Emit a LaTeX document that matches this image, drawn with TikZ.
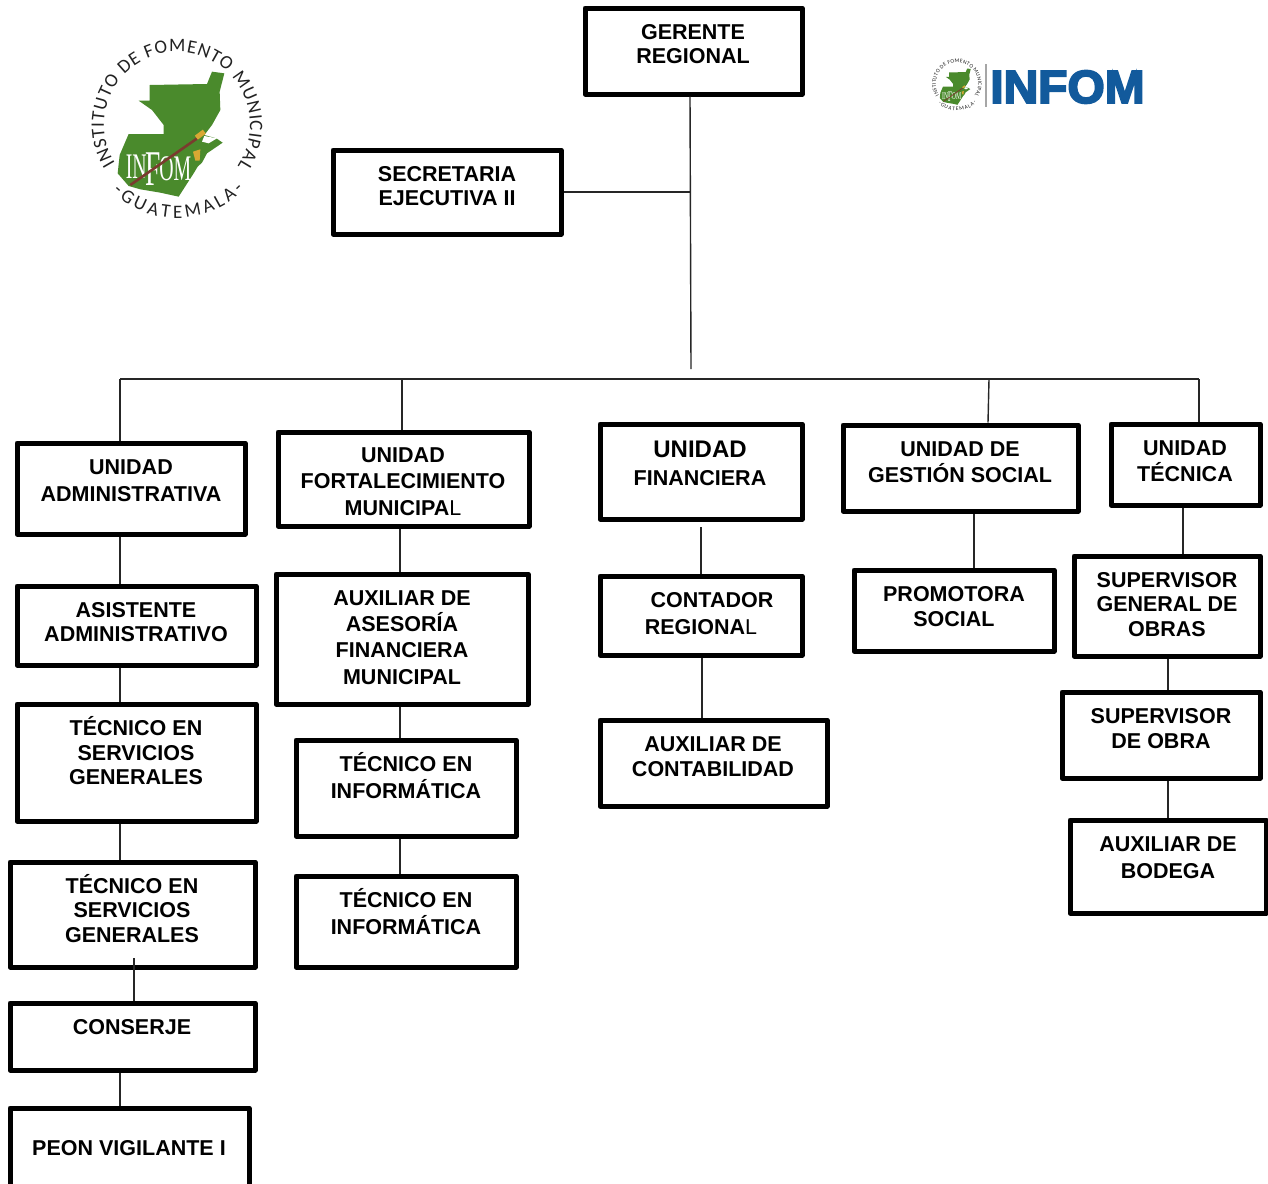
\documentclass[tikz,border=0pt]{standalone}
\usepackage{fontspec}
\setmainfont{Liberation Sans}
\newfontfamily\sealserif{Liberation Serif}
\newfontfamily\sealsans{Carlito}
\usetikzlibrary{decorations.text}
\definecolor{sealgreen}{HTML}{4A8A2C}
\definecolor{sealbrown}{HTML}{7A3B2E}
\definecolor{sealgold}{HTML}{D9A833}
\definecolor{infomblue}{HTML}{125A9C}
\definecolor{ringink}{HTML}{222222}
\tikzset{
  orgbox/.style={draw=black,line width=5pt,line join=round,inner sep=0pt,fill=white},
  orgtext/.style={inner sep=0pt,align=center,text=black},
  link/.style={draw=black!85,line width=1.4pt}
}
% name, x1,y1,x2,y2, text x, text y, leading, text
\newcommand{\orgunit}[9]{%
  \pgfmathsetmacro{\cxx}{(#2+#4)/2}\pgfmathsetmacro{\cyy}{(#3+#5)/2}%
  \pgfmathsetmacro{\wdd}{#4-#2-2}\pgfmathsetmacro{\htt}{#5-#3-2}%
  \node[orgbox,minimum width=\wdd pt,minimum height=\htt pt] (#1) at (\cxx,\cyy) {};%
  \node[orgtext,font=\fontsize{21.5pt}{#8pt}\selectfont\bfseries] (#1-t) at (#6,#7) {#9};%
}
% name suffix, centre x, centre y, scale
\newcommand{\sealmark}[4]{%
  \pgfmathsetmacro{\sca}{#4}%
  \pgfmathsetmacro{\ra}{73*\sca}\pgfmathsetmacro{\rb}{93*\sca}%
  \pgfmathsetmacro{\fa}{19*\sca}\pgfmathsetmacro{\fb}{19*\sca}%
  \pgfmathsetmacro{\fc}{36*\sca}\pgfmathsetmacro{\fd}{50*\sca}%
  \pgfmathsetmacro{\zu}{\sca/3}%
  \begin{scope}[shift={(#2,#3)},x=\zu pt,y=-\zu pt,shift={(-350,-345)}]
    \fill[sealgreen] (268,225) -- (440,222) -- (455,185) -- (492,190) -- (478,245) -- (480,300)
      -- (455,345) -- (432,375) -- (468,385) -- (487,398) -- (440,430) -- (425,458) -- (412,470)
      -- (400,490) -- (355,560) -- (300,548) -- (240,538) -- (205,528) -- (172,490) -- (178,435)
      -- (205,372) -- (310,372) -- (310,345) -- (275,300) -- (235,272) -- (268,272) -- cycle;
    \fill[white] (432,378) -- (470,385) -- (445,400) -- (425,395) -- cycle;
    \fill[sealgold] (398,425) -- (420,418) -- (418,452) -- (405,452) -- cycle;
    \node[font=\sealserif\fontsize{\fc pt}{\fc pt}\selectfont,text=white,xscale=.55,inner sep=0pt] (seal-a#1) at (228,470) {IN};
    \node[font=\sealserif\fontsize{\fd pt}{\fd pt}\selectfont,text=white,xscale=.55,inner sep=0pt] (seal-b#1) at (278,478) {F};
    \node[font=\sealserif\fontsize{\fc pt}{\fc pt}\selectfont,text=white,xscale=.55,inner sep=0pt] (seal-c#1) at (345,475) {OM};
    \draw[sealbrown,line width=2.6*\sca pt] (210,525) -- (415,382);
    \draw[sealgold,line width=5*\sca pt] (408,383) -- (432,365);
  \end{scope}
  \begin{scope}[shift={(#2,#3)},x=1pt,y=1pt]
    \path[decorate,decoration={text along path,text align={fit to path},text color=ringink,
      text={|\sealsans\fontsize{\fa pt}{\fa pt}\selectfont|INSTITUTO DE FOMENTO MUNICIPAL}}]
      (212:\ra pt) arc (212:-34:\ra pt);
    \path[decorate,decoration={text along path,text align={fit to path},text color=ringink,
      text={|\sealsans\fontsize{\fb pt}{\fb pt}\selectfont|-GUATEMALA-}}]
      (226:\rb pt) arc (226:316:\rb pt);
  \end{scope}%
}
\begin{document}
\begin{tikzpicture}[x=1pt,y=-1pt]
\useasboundingbox (0,0) rectangle (1268,1183);
\fill[white] (0,0) rectangle (1268,1183);

% logos
\sealmark{L}{177}{125}{1}
\sealmark{R}{957}{84}{0.29}
\fill[black!35] (985,64) rectangle (986.5,107);
\node[inner sep=0pt,text=infomblue,xscale=1.03,font=\fontsize{46.5pt}{46.5pt}\selectfont\bfseries\addfontfeature{FakeBold=4}] (infomword) at (1067.5,87) {INFOM};

% boxes
\orgunit{ger}{584}{7}{803}{95}{693}{44}{24}{GERENTE\\REGIONAL}
\orgunit{sec}{332}{149}{562}{235}{447}{186}{24}{SECRETARIA\\EJECUTIVA II}

\orgunit{adm}{16}{442}{246}{535}{131}{480.5}{27}{UNIDAD\\ADMINISTRATIVA}
\orgunit{asi}{16}{585}{257}{666}{136}{622}{24}{ASISTENTE\\ADMINISTRATIVO}
\orgunit{tsa}{16}{703}{257}{822}{136}{751}{24.5}{TÉCNICO EN\\SERVICIOS\\GENERALES}
\orgunit{tsb}{9}{861}{256}{968}{132}{908.5}{24.5}{TÉCNICO EN\\SERVICIOS\\GENERALES}
\orgunit{con}{9}{1002}{256}{1071}{132}{1027}{24}{CONSERJE}
\orgunit{peo}{9}{1107}{250}{1195}{129}{1148}{24}{PEON VIGILANTE I}

\orgunit{for}{277}{431}{530}{527}{403}{481.5}{26.5}{UNIDAD\\FORTALECIMIENTO\\MUNICIPA{\mdseries L}}
\orgunit{aux}{275}{573}{529}{705}{402}{637.5}{26.3}{AUXILIAR DE\\ASESORÍA\\FINANCIERA\\MUNICIPAL}
\orgunit{tia}{295}{739}{517}{837}{406}{775.5}{27}{TÉCNICO EN\\INFORMÁTICA}
\orgunit{tib}{295}{875}{517}{968}{406}{911.5}{27}{TÉCNICO EN\\INFORMÁTICA}

\orgunit{fin}{599}{423}{803}{520}{700}{463.5}{28}{{\fontsize{24pt}{28pt}\selectfont UNIDAD}\\FINANCIERA}
\orgunit{cnt}{599}{575}{803}{656}{701}{613.5}{27}{\hspace*{22pt}CONTADOR\\REGIONA{\mdseries L}}
\orgunit{acb}{599}{719}{828}{807}{713}{756.5}{25}{AUXILIAR DE\\CONTABILIDAD}

\orgunit{ges}{842}{424}{1079}{512}{960}{462}{26}{UNIDAD DE\\GESTIÓN SOCIAL}
\orgunit{pro}{853}{569}{1055}{652}{954}{606.5}{25}{PROMOTORA\\SOCIAL}

\orgunit{tec}{1110}{423}{1261}{506}{1185}{461}{26}{UNIDAD\\TÉCNICA}
\orgunit{sgo}{1073}{555}{1261}{657}{1167}{604.5}{24.5}{SUPERVISOR\\GENERAL DE\\OBRAS}
\orgunit{sob}{1061}{691}{1261}{779}{1161}{728.5}{25}{SUPERVISOR\\DE OBRA}
\orgunit{bod}{1069}{819}{1267}{914}{1168}{857.5}{27}{AUXILIAR DE\\BODEGA}

% trunk and bus
\coordinate (trunkend) at (691,369);
\coordinate (busl) at (120,379);
\coordinate (busr) at (1199,379);
\draw[link] (690,0 |- ger.south) -- (trunkend);
\draw[link] (sec.east) -- (690,0 |- sec.east);
\draw[link] (busl) -- (busr);

% drops from the bus
\draw[link] (busl) -- (120,0 |- adm.north);
\draw[link] (402,0 |- busl) -- (402,0 |- for.north);
\draw[link] (989,0 |- busl) -- (988,0 |- ges.north);
\draw[link] (busr) -- (1199,0 |- tec.north);

% column links
\draw[link] (120,0 |- adm.south) -- (120,0 |- asi.north);
\draw[link] (120,0 |- asi.south) -- (120,0 |- tsa.north);
\draw[link] (120,0 |- tsa.south) -- (120,0 |- tsb.north);
\coordinate (tsbin) at (134,958);
\draw[link] (tsbin) -- (134,0 |- con.north);
\draw[link] (120,0 |- con.south) -- (120,0 |- peo.north);

\draw[link] (400,0 |- for.south) -- (400,0 |- aux.north);
\draw[link] (400,0 |- aux.south) -- (400,0 |- tia.north);
\draw[link] (400,0 |- tia.south) -- (400,0 |- tib.north);

\coordinate (cntup) at (701,527);
\draw[link] (cntup) -- (701,0 |- cnt.north);
\draw[link] (702,0 |- cnt.south) -- (702,0 |- acb.north);

\draw[link] (974,0 |- ges.south) -- (974,0 |- pro.north);

\draw[link] (1183,0 |- tec.south) -- (1183,0 |- sgo.north);
\draw[link] (1168,0 |- sgo.south) -- (1168,0 |- sob.north);
\draw[link] (1168,0 |- sob.south) -- (1168,0 |- bod.north);
\end{tikzpicture}
\end{document}
